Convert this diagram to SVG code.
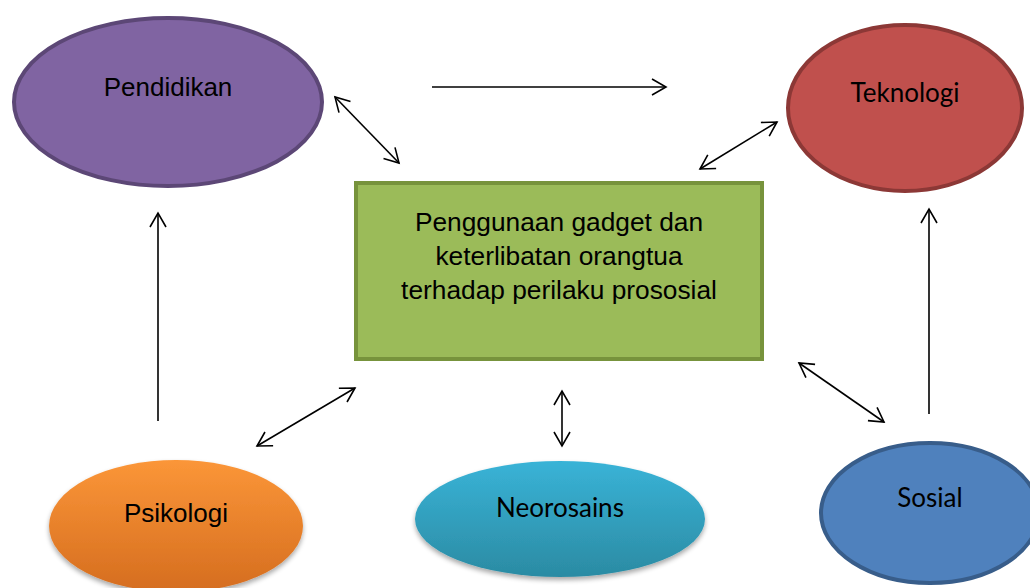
<svg xmlns="http://www.w3.org/2000/svg" width="1030" height="588" viewBox="0 0 1030 588">
<style>
.lbl{font-family:"Liberation Sans",Arial,sans-serif;font-size:26px;fill:#000;text-anchor:middle}
.cal{font-family:Lato,"Open Sans",sans-serif;font-size:26px;fill:#000;text-anchor:middle}
.box{font-family:"Liberation Sans",Arial,sans-serif;font-size:26.3px;fill:#000;text-anchor:middle}
.con{stroke:#000;stroke-width:1.6;fill:none;marker-end:url(#ah)}
.bi{marker-start:url(#ahs)}
</style>
<defs>
<marker id="ah" markerUnits="userSpaceOnUse" markerWidth="20" markerHeight="20" viewBox="0 0 20 20" refX="17" refY="10" orient="auto">
<path d="M3,2 L17,10 L3,18" fill="none" stroke="#000" stroke-width="1.6"/>
</marker>
<marker id="ahs" markerUnits="userSpaceOnUse" markerWidth="20" markerHeight="20" viewBox="0 0 20 20" refX="3" refY="10" orient="auto">
<path d="M17,2 L3,10 L17,18" fill="none" stroke="#000" stroke-width="1.6"/>
</marker>
<linearGradient id="gOr" x1="0" y1="0" x2="0" y2="1">
<stop offset="0" stop-color="#fb9638"/>
<stop offset="1" stop-color="#d56d1f"/>
</linearGradient>
<linearGradient id="gTe" x1="0" y1="0" x2="0" y2="1">
<stop offset="0" stop-color="#39b3d7"/>
<stop offset="1" stop-color="#2b8ba3"/>
</linearGradient>
<filter id="sh" x="-10%" y="-10%" width="120%" height="130%">
<feGaussianBlur in="SourceAlpha" stdDeviation="2.5"/>
<feOffset dy="3" result="b"/>
<feComponentTransfer><feFuncA type="linear" slope="0.35"/></feComponentTransfer>
<feMerge><feMergeNode/><feMergeNode in="SourceGraphic"/></feMerge>
</filter>
</defs>
<rect width="1030" height="588" fill="#fff"/>
<g id="pendidikan">
<ellipse cx="168" cy="102" rx="154" ry="84" fill="#8064a2" stroke="#5c4776" stroke-width="4"/>
<text class="lbl" x="168" y="96">Pendidikan</text>
</g>
<g id="teknologi">
<ellipse cx="905" cy="108" rx="117" ry="83" fill="#c0504d" stroke="#8c3836" stroke-width="4"/>
<text class="cal" x="905" y="102">Teknologi</text>
</g>
<g id="center">
<rect x="356" y="183" width="406" height="176" fill="#9bbb59" stroke="#77933c" stroke-width="4"/>
<text class="box" x="559" y="231">Penggunaan gadget dan</text>
<text class="box" x="559" y="265">keterlibatan orangtua</text>
<text class="box" x="559" y="299">terhadap perilaku prososial</text>
</g>
<g id="psikologi">
<ellipse cx="176" cy="526" rx="127" ry="66" fill="url(#gOr)" filter="url(#sh)"/>
<text class="lbl" x="176" y="522">Psikologi</text>
</g>
<g id="neorosains">
<ellipse cx="560" cy="519" rx="145" ry="58" fill="url(#gTe)" filter="url(#sh)"/>
<text class="cal" x="560" y="517">Neorosains</text>
</g>
<g id="sosial">
<ellipse cx="930" cy="513" rx="109" ry="70" fill="#4f81bd" stroke="#385d8a" stroke-width="4"/>
<text class="cal" x="930" y="507">Sosial</text>
</g>
<g id="connectors">
<line class="con bi" x1="335" y1="97" x2="399" y2="163"/>
<line class="con" x1="432" y1="87" x2="666" y2="87"/>
<line class="con bi" x1="700" y1="169" x2="777" y2="122"/>
<line class="con" x1="158" y1="421" x2="158" y2="213"/>
<line class="con" x1="929" y1="414" x2="929" y2="209"/>
<line class="con bi" x1="257" y1="446" x2="355" y2="388"/>
<line class="con bi" x1="562" y1="391" x2="562" y2="446"/>
<line class="con bi" x1="799" y1="363" x2="884" y2="422"/>
</g>
</svg>
